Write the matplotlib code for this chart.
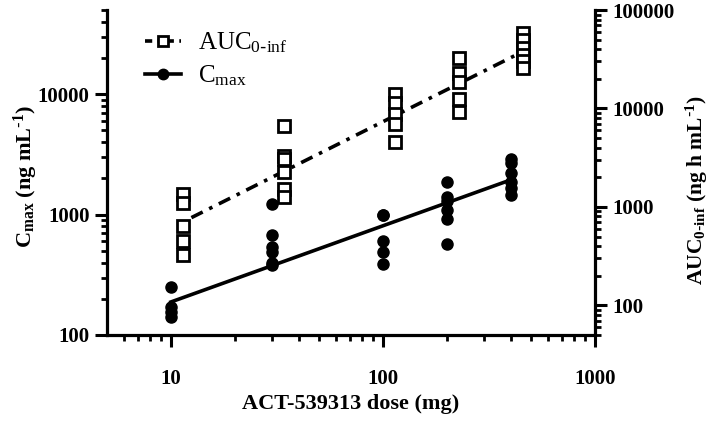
import matplotlib
matplotlib.use("Agg")
import matplotlib.pyplot as plt
from matplotlib.ticker import FixedLocator, NullFormatter, FixedFormatter
from matplotlib.lines import Line2D

plt.rcParams['font.family'] = ['Liberation Serif', 'DejaVu Serif']
plt.rcParams['mathtext.default'] = 'regular'

# ---- data ----
cmax_dose = [10]*4 + [30]*6 + [100]*5 + [200]*6 + [400]*6
cmax_vals = [251, 171, 155, 141,
             1225, 677, 538, 489, 400, 385,
             1000, 990, 604, 489, 389,
             1866, 1400, 1300, 1091, 919, 570,
             2900, 2700, 2213, 1866, 1663, 1455]
auc_dose = [11.4]*5 + [34.2]*6 + [114]*5 + [228]*5 + [456]*6
auc_vals = [1340, 1083, 645, 453, 326,
            6650, 3280, 3050, 2250, 1507, 1248,
            14100, 11430, 8830, 6970, 4560,
            32300, 22650, 18760, 12570, 9250,
            58200, 49300, 40900, 34600, 30100, 25500]
cmax_fit_dose = [10, 400]
cmax_fit_vals = [188, 1940]
auc_fit_dose = [12.5, 440]
auc_fit_vals = [778, 36300]

x_ticks = [10, 100, 1000]
y_left_ticks = [100, 1000, 10000]
y_right_ticks = [100, 1000, 10000, 100000]

# ---- figure ----
W, H = 709, 421
fig = plt.figure(figsize=(W/100, H/100), dpi=100)
ax = fig.add_axes([107/W, 86/H, (595-107)/W, 325/H])
ax2 = ax.twinx()

lw_sp = 2.3
for a in (ax, ax2):
    a.set_xscale('log')
    a.set_yscale('log')
    a.patch.set_visible(False)
    for s in a.spines.values():
        s.set_linewidth(lw_sp)
    a.spines['top'].set_visible(False)
ax.spines['right'].set_visible(False)
ax2.spines['left'].set_visible(False)
ax2.spines['bottom'].set_visible(False)

ax.set_xlim(5, 1000)
ax.set_ylim(100, 50000)
ax2.set_ylim(50, 100000)

def minors(lo, hi):
    out = []
    d = 1
    while d < hi:
        for k in range(2, 10):
            v = k*d
            if lo < v < hi:
                out.append(v)
        d *= 10
    return out

ax.xaxis.set_major_locator(FixedLocator(x_ticks))
ax.xaxis.set_major_formatter(FixedFormatter([str(t) for t in x_ticks]))
ax.xaxis.set_minor_locator(FixedLocator(minors(5, 1000)))
ax.xaxis.set_minor_formatter(NullFormatter())
ax.yaxis.set_major_locator(FixedLocator(y_left_ticks))
ax.yaxis.set_major_formatter(FixedFormatter([str(t) for t in y_left_ticks]))
ax.yaxis.set_minor_locator(FixedLocator(minors(100, 50001)))
ax.yaxis.set_minor_formatter(NullFormatter())
ax2.yaxis.set_major_locator(FixedLocator(y_right_ticks))
ax2.yaxis.set_major_formatter(FixedFormatter([str(t) for t in y_right_ticks]))
ax2.yaxis.set_minor_locator(FixedLocator(minors(49, 100000)))
ax2.yaxis.set_minor_formatter(NullFormatter())

tick_fs = 15
for a in (ax, ax2):
    a.tick_params(which='major', length=8.5, width=2.2, direction='out', labelsize=tick_fs)
    a.tick_params(which='minor', length=4.5, width=2.0, direction='out')
ax.tick_params(axis='x', which='major', pad=16)
ax.tick_params(axis='y', which='major', pad=4)
ax2.tick_params(axis='y', which='major', pad=4)
ax2.tick_params(axis='x', which='both', bottom=False, top=False, labelbottom=False)
for lab in ax.get_xticklabels() + ax.get_yticklabels() + ax2.get_yticklabels():
    lab.set_fontweight('bold')

# data
ax.plot(cmax_dose, cmax_vals, 'o', color='black', markersize=8, zorder=3, clip_on=False)
ax.plot(cmax_fit_dose, cmax_fit_vals, '-', color='black', lw=2.6, zorder=3)
ax2.plot(auc_dose, auc_vals, 's', mfc='white', mec='black', mew=2.0, markersize=8.5, zorder=4, clip_on=False)
ax2.plot(auc_fit_dose, auc_fit_vals, color='black', lw=2.6, dashes=[3.5, 2.0, 1.0, 2.0], zorder=3)

ax.set_xlabel('ACT-539313 dose (mg)', fontsize=16, fontweight='bold')
ax.xaxis.set_label_coords(0.5, (335-404)/325)
ax.xaxis.label.set_verticalalignment('center')
ax.set_ylabel('C$_{max}$ (ng mL$^{\\text{-}1}$)', fontsize=16, fontweight='bold')
ax2.set_ylabel('AUC$_{0\\text{-}inf}$ (ng h mL$^{\\text{-}1}$)', fontsize=15.5, fontweight='bold')
ax.yaxis.set_label_coords((26-107)/488, (335-176)/325)
ax2.yaxis.set_label_coords((697-107)/488, (335-190)/325)
ax.yaxis.label.set_verticalalignment('center')
ax2.yaxis.label.set_verticalalignment('center')

h_auc = Line2D([], [], color='black', lw=2.6, dashes=[2.0, 1.5, 1.0, 1.5], marker='s',
               mfc='white', mec='black', mew=2.0, markersize=7)
h_cmax = Line2D([], [], color='black', lw=2.6, marker='o', markersize=7.5)
leg = ax2.legend([h_auc, h_cmax], ['AUC$_{0\\text{-}inf}$', 'C$_{max}$'],
                 loc='upper left', bbox_to_anchor=(122/W, 1 - 8/H), bbox_transform=fig.transFigure,
                 frameon=False, fontsize=18, handlelength=1.45, handletextpad=0.7, labelspacing=0.35)

fig.savefig('out.png', dpi=100)
